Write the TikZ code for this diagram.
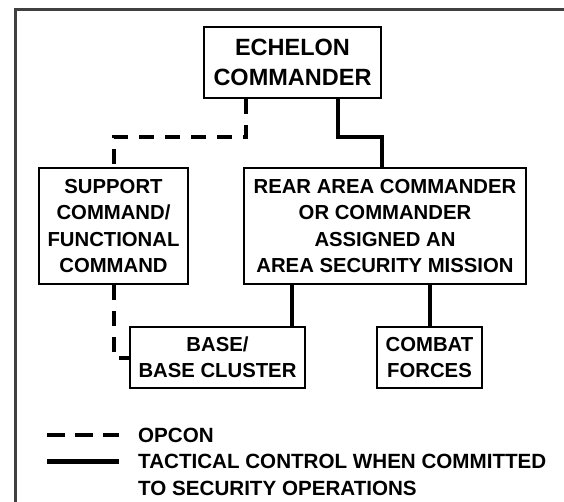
\documentclass[tikz,border=0pt]{standalone}
\usepackage{fontspec}
\setmainfont{Liberation Sans}
\begin{document}
\begin{tikzpicture}[x=1pt,y=-1pt,
  box/.style={draw, line width=2.6pt, inner sep=0pt, align=center,
    font=\bfseries\fontsize{20.3}{26.2}\selectfont},
  bigbox/.style={box, font=\bfseries\fontsize{23.5}{29.6}\selectfont},
  legtext/.style={anchor=base west, inner sep=0pt,
    font=\bfseries\fontsize{20.6}{26.2}\selectfont},
  opcon/.style={line width=4pt, dash pattern=on 15pt off 11pt},
  legopcon/.style={line width=4.5pt, dash pattern=on 18pt off 10pt},
  tacon/.style={line width=4pt},
  frame/.style={line width=3pt, draw=black!75}]
\useasboundingbox (0,0) rectangle (564,502);
\clip (0,0) rectangle (564,502);
\draw[frame] (15,9.5) rectangle (590,530);

% boxes
\node[bigbox, minimum width=177pt, minimum height=71pt] (ech) at (292.5,62.5) {ECHELON\\COMMANDER};
\node[box, minimum width=149pt, minimum height=116pt] (sup) at (113.5,226) {SUPPORT\\COMMAND/\\FUNCTIONAL\\COMMAND};
\node[box, minimum width=282pt, minimum height=116pt] (rear) at (385,226) {REAR AREA COMMANDER\\OR COMMANDER\\ASSIGNED AN\\AREA SECURITY MISSION};
\node[box, minimum width=175pt, minimum height=61pt] (base) at (217.5,357.5) {BASE/\\BASE CLUSTER};
\node[box, minimum width=105pt, minimum height=61pt] (comb) at (429.5,357.5) {COMBAT\\FORCES};

% connectors
\draw[opcon] (ech.south -| 246,0) -- (246,137) -| (sup.north);
\draw[tacon] (ech.south -| 338,0) -- (338,137) -| (rear.north -| 382,0);
\draw[tacon] (rear.south -| 292,0) -- (base.north -| 292,0);
\draw[tacon] (rear.south -| comb.north) -- (comb.north);
\draw[opcon] (sup.south) |- (base.west);

% legend
\coordinate (l1a) at (47,435);
\coordinate (l1b) at (119,435);
\coordinate (l2a) at (47,461.5);
\coordinate (l2b) at (119,461.5);
\draw[legopcon] (l1a) -- (l1b);
\draw[line width=4.5pt] (l2a) -- (l2b);
\node[legtext] (lop) at (138,442.3) {OPCON};
\node[legtext] (lt1) at (138,468.8) {TACTICAL CONTROL WHEN COMMITTED};
\node[legtext] (lt2) at (138,495.3) {TO SECURITY OPERATIONS};
\end{tikzpicture}
\end{document}
